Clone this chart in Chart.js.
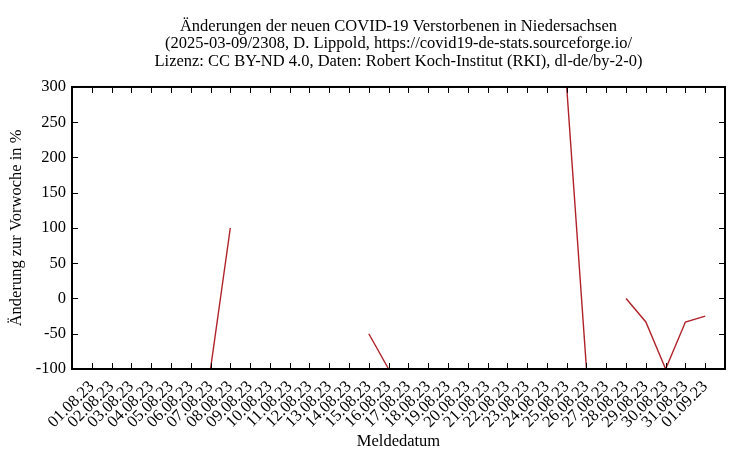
<!DOCTYPE html>
<html>
<head>
<meta charset="utf-8">
<script src="https://cdn.jsdelivr.net/npm/chart.js@4"></script>
<style>
  html, body { margin: 0; padding: 0; background: #fff; }
  #wrap { width: 750px; height: 450px; }
</style>
</head>
<body>
<div id="wrap"><canvas id="chart"></canvas></div>
<script>
// categories: reporting dates
const dates = [
  "01.08.23", "02.08.23", "03.08.23", "04.08.23", "05.08.23", "06.08.23", "07.08.23", "08.08.23",
  "09.08.23", "10.08.23", "11.08.23", "12.08.23", "13.08.23", "14.08.23", "15.08.23", "16.08.23",
  "17.08.23", "18.08.23", "19.08.23", "20.08.23", "21.08.23", "22.08.23", "23.08.23", "24.08.23",
  "25.08.23", "26.08.23", "27.08.23", "28.08.23", "29.08.23", "30.08.23", "31.08.23", "01.09.23"
];

// change vs. previous week in %, null = no value (gap)
const change = [
  null, null, null, null, null, null, -100, 100,
  null, null, null, null, null, null, -50, -100,
  null, null, null, null, null, null, null, null,
  300, -100, null, 0, -33.3, -100, -33.3, -25
];

const yTicks = [-100, -50, 0, 50, 100, 150, 200, 250, 300];

const serif = "'Liberation Serif', 'DejaVu Serif', serif";
const lineColor = "#b0222a";
const fs = 16.5;

// gnuplot style frame with ticks on the inside of all four sides
const framePlugin = {
  id: 'frame',
  afterDraw(chart) {
    const { ctx, chartArea: a, scales } = chart;
    const len = 6;
    ctx.save();
    ctx.strokeStyle = '#000';
    ctx.lineWidth = 1;
    dates.forEach((_, i) => {
      const x = Math.round(scales.x.getPixelForValue(i)) + 0.5;
      ctx.beginPath();
      ctx.moveTo(x, a.bottom); ctx.lineTo(x, a.bottom - len);
      ctx.moveTo(x, a.top); ctx.lineTo(x, a.top + len);
      ctx.stroke();
    });
    yTicks.forEach(v => {
      const y = Math.round(scales.y.getPixelForValue(v)) + 0.5;
      ctx.beginPath();
      ctx.moveTo(a.left, y); ctx.lineTo(a.left + len, y);
      ctx.moveTo(a.right, y); ctx.lineTo(a.right - len, y);
      ctx.stroke();
    });
    ctx.lineWidth = 2;
    ctx.strokeRect(a.left, a.top, a.right - a.left, a.bottom - a.top);
    ctx.restore();
  }
};

new Chart(document.getElementById('chart'), {
  type: 'line',
  data: {
    datasets: [{
      data: change.map((v, i) => ({ x: i, y: v })),
      borderColor: lineColor,
      borderWidth: 1.4,
      pointRadius: 0,
      spanGaps: false,
      tension: 0,
      fill: false
    }]
  },
  options: {
    responsive: true,
    maintainAspectRatio: false,
    animation: false,
    devicePixelRatio: 1,
    layout: { padding: { left: 0, right: 25, top: 0, bottom: 0 } },
    plugins: {
      legend: { display: false },
      tooltip: { enabled: false },
      title: {
        display: true,
        fullSize: false,
        text: [
          "Änderungen der neuen COVID-19 Verstorbenen in Niedersachsen",
          "(2025-03-09/2308, D. Lippold, https://covid19-de-stats.sourceforge.io/",
          "Lizenz: CC BY-ND 4.0, Daten: Robert Koch-Institut (RKI), dl-de/by-2-0)"
        ],
        color: '#000',
        font: { family: serif, size: fs, weight: 'normal', lineHeight: 1.05 },
        padding: { top: 18, bottom: 17 }
      }
    },
    scales: {
      x: {
        type: 'linear',
        min: -1,
        max: 32,
        grid: { display: false },
        border: { display: false },
        afterBuildTicks(s) {
          s.ticks = dates.map((_, i) => ({ value: i }));
        },
        afterFit(s) { s.height = 81; },
        ticks: {
          autoSkip: false,
          maxRotation: 45,
          minRotation: 45,
          padding: 0,
          color: '#000',
          font: { family: serif, size: fs },
          callback: v => dates[v] ?? ''
        },
        title: {
          display: true,
          text: 'Meldedatum',
          color: '#000',
          font: { family: serif, size: fs },
          padding: { top: 0, bottom: -2 }
        }
      },
      y: {
        min: -100,
        max: 300,
        grid: { display: false, drawTicks: false },
        border: { display: false },
        afterBuildTicks(s) {
          s.ticks = yTicks.map(v => ({ value: v }));
        },
        afterFit(s) { s.width = 72; },
        ticks: {
          padding: 6,
          color: '#000',
          font: { family: serif, size: fs }
        },
        title: {
          display: true,
          text: 'Änderung zur Vorwoche in %',
          color: '#000',
          font: { family: serif, size: fs },
          padding: { top: 7, bottom: 0 }
        }
      }
    }
  },
  plugins: [framePlugin]
});
</script>
</body>
</html>
